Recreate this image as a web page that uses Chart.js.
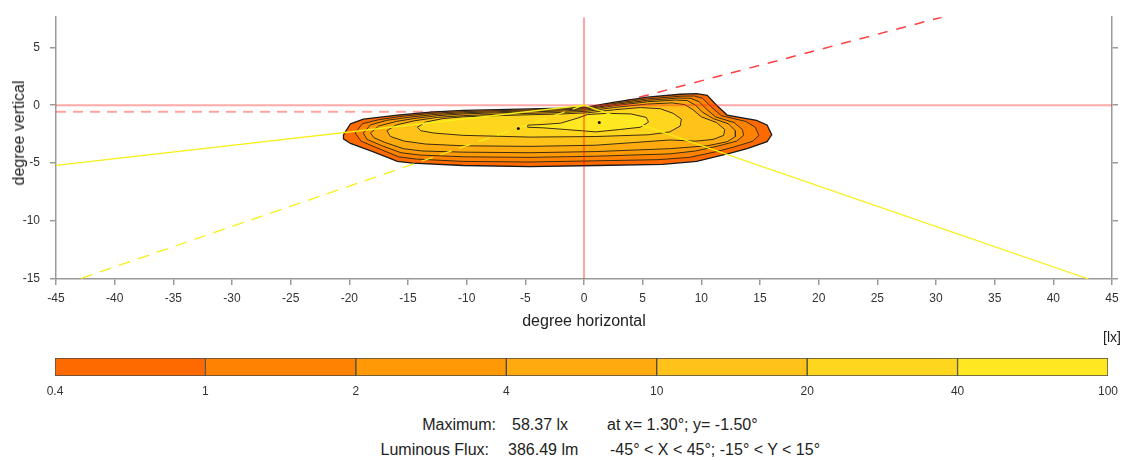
<!DOCTYPE html>
<html>
<head>
<meta charset="utf-8">
<script src="https://cdn.jsdelivr.net/npm/chart.js@4.4.1/dist/chart.umd.min.js"></script>
<style>
  body { margin: 0; background: #fff; width: 1126px; height: 461px; position: relative; overflow: hidden;
         font-family: "Liberation Sans", Arial, sans-serif; color: #222; }
  #isoWrap { position: absolute; left: 0; top: 0; width: 1126px; height: 335px; }
  #barWrap { position: absolute; left: 0; top: 335px; width: 1126px; height: 75px; }
  .note { position: absolute; font-size: 16px; line-height: 18px; white-space: pre; }
  .right { text-align: right; }
  #yTitle { position: absolute; left: 18.5px; top: 133px; font-size: 16px; line-height: 18px; white-space: pre;
            transform: translate(-50%, -50%) rotate(-90deg); }
</style>
</head>
<body>
<div id="isoWrap"><canvas id="isoChart"></canvas></div>
<div id="barWrap"><canvas id="scaleBar"></canvas></div>
<div id="yTitle">degree vertical</div>
<div class="note" style="left:1103px; top:328px; font-size:14px;">[lx]</div>
<div class="note right" style="right:630px; top:416px;">Maximum:</div>
<div class="note" style="left:512px; top:416px;">58.37 lx</div>
<div class="note" style="left:607px; top:416px;">at x= 1.30°; y= -1.50°</div>
<div class="note right" style="right:637px; top:441px;">Luminous Flux:</div>
<div class="note" style="left:508px; top:441px;">386.49 lm</div>
<div class="note" style="left:610px; top:441px;">-45° &lt; X &lt; 45°; -15° &lt; Y &lt; 15°</div>
<script>
// illuminance class limits [lx] and the fill of each band
const luxLevels = ['0.4', '1', '2', '4', '10', '20', '40', '100'];
const bandColors = ['#ff6a00', '#ff8200', '#ff9a06', '#ffab10', '#ffc219', '#ffd61e', '#ffe822'];

// isolux contours, [horizontal°, vertical°]
const iso04 = [[-20.5,-2.55],[-19.9,-1.6],[-18.8,-1.2],[-15.9,-0.85],[-13.1,-0.6],[-10.3,-0.45],[-7.4,-0.38],
  [-4.6,-0.32],[-1.8,-0.25],[0.3,-0.15],[2.5,0.25],[5.4,0.7],[8.2,0.95],[9.6,1.0],[10.5,0.85],[11.3,0.0],
  [12.2,-0.85],[14.7,-1.3],[15.6,-1.7],[16.0,-2.55],[15.6,-3.15],[13.9,-3.75],[12.4,-4.15],[9.6,-4.85],
  [6.7,-5.1],[1.1,-5.2],[-4.6,-5.3],[-10.3,-5.2],[-14.6,-5.0],[-15.9,-4.85],[-18,-4.0],[-19.9,-3.3],[-20.5,-2.9]];
const iso1 = [[-19.5,-2.4],[-18.9,-1.6],[-17.5,-1.25],[-15.5,-0.95],[-13,-0.7],[-10.3,-0.55],[-7.4,-0.47],
  [-4.6,-0.4],[-1.8,-0.33],[0.3,-0.22],[2.5,0.15],[5.4,0.55],[8.2,0.78],[9.4,0.8],[10.1,0.6],[10.8,-0.1],
  [11.7,-0.9],[13.8,-1.4],[14.6,-1.9],[14.9,-2.6],[14.4,-3.1],[12.8,-3.6],[11.3,-4.0],[9,-4.5],[6.3,-4.7],
  [1,-4.8],[-4.6,-4.9],[-10.3,-4.85],[-14.3,-4.65],[-15.8,-4.45],[-17.6,-3.7],[-19,-3.1]];
const iso2 = [[-18.8,-2.4],[-18.2,-1.7],[-16.8,-1.3],[-15,-1.05],[-12.8,-0.8],[-10.3,-0.65],[-7.4,-0.56],
  [-4.6,-0.48],[-1.8,-0.4],[0.3,-0.3],[2.5,0.05],[5.4,0.42],[8,0.62],[9.1,0.6],[9.8,0.3],[10.4,-0.3],
  [11.2,-1.0],[12.8,-1.5],[13.5,-2.1],[13.6,-2.6],[13,-3.1],[11.5,-3.5],[9.5,-3.95],[7.3,-4.2],[1,-4.4],
  [-4.6,-4.5],[-10.3,-4.45],[-14,-4.3],[-15.6,-4.1],[-17.2,-3.5],[-18.5,-2.95]];
const iso4 = [[-18.2,-2.4],[-17.5,-1.8],[-16,-1.4],[-14.5,-1.15],[-12.5,-0.9],[-10.3,-0.75],[-7.4,-0.65],
  [-4.6,-0.57],[-1.8,-0.5],[0.3,-0.4],[2.5,-0.05],[5.4,0.3],[7.8,0.45],[8.8,0.4],[9.5,0.0],[10.1,-0.6],
  [11,-1.15],[12.3,-1.6],[12.9,-2.2],[12.9,-2.7],[12.2,-3.15],[10.5,-3.5],[7.3,-3.75],[1,-4.0],[-4.6,-4.1],
  [-10.3,-4.05],[-13.8,-3.95],[-15.4,-3.75],[-17,-3.2],[-17.9,-2.8]];
const iso10 = [[-16.8,-2.2],[-16,-1.7],[-14.5,-1.35],[-12.5,-1.05],[-10.3,-0.9],[-7.4,-0.78],[-4.6,-0.7],
  [-1.8,-0.62],[0.3,-0.52],[2.5,-0.2],[5.4,0.1],[7.5,0.2],[8.6,0.05],[9.3,-0.4],[10,-1.0],[11.3,-1.5],
  [12,-2.1],[11.9,-2.6],[11,-2.95],[9.5,-3.1],[7.3,-3.0],[1,-3.45],[-4.6,-3.55],[-10.3,-3.5],[-13.5,-3.35],
  [-15.3,-3.1],[-16.5,-2.7]];
const iso20 = [[-14.2,-1.9],[-13.5,-1.45],[-12,-1.15],[-10.3,-1.0],[-7.4,-0.9],[-4.6,-0.82],[-1.8,-0.75],
  [0.3,-0.65],[2.5,-0.4],[4.8,-0.2],[6.5,-0.3],[7.6,-0.7],[8.3,-1.2],[8.2,-1.8],[7.3,-2.3],[5.5,-2.55],
  [1,-2.7],[-4.6,-2.75],[-10.3,-2.6],[-12.8,-2.4],[-13.9,-2.2]];
const iso40 = [[-4.8,-1.72],[-3.5,-1.66],[-2,-1.55],[-0.5,-1.1],[0.3,-0.8],[2,-0.7],[4,-0.75],[5.3,-1.05],
  [5.5,-1.45],[4.8,-1.9],[3,-2.1],[1,-2.3],[-1.5,-2.1],[-3.5,-1.95],[-4.8,-1.9]];

// peak values
const peakPoint = [1.3, -1.5];
const sidePeak = [-5.6, -2.0];

// reference lines
const horizon = [[-45, 0], [45, 0]];
const vertical = [[0, -15], [0, 7.6]];
const cutoffLeft = [[-45, -0.57], [0, -0.57]];
const cutoffRight = [[0, -0.57], [30.5, 7.6]];
const rayLeft = [[0, 0], [-45, -5.2]];
const rayRight = [[0, 0], [43, -15]];
const rayLeftDashed = [[0, 0], [-43, -15]];

const contours = [iso04, iso1, iso2, iso4, iso10, iso20, iso40];

const toPts = pairs => pairs.map(([x, y]) => ({x, y}));
const closed = pairs => toPts(pairs.concat([pairs[0]]));

function lineSet(pairs, color, width, dash, order) {
  return {
    data: toPts(pairs), showLine: true, fill: false, borderColor: color, borderWidth: width,
    borderDash: dash, pointRadius: 0, order: order
  };
}

const datasets = [];
contours.forEach((poly, i) => {
  datasets.push({
    data: closed(poly), showLine: true, fill: 'shape', tension: 0,
    backgroundColor: bandColors[i], borderColor: i === 0 ? '#1a1a1a' : '#3b2f14',
    borderWidth: i === 0 ? 1.3 : 1, pointRadius: 0, order: 20 - i
  });
});
datasets.push(lineSet(cutoffLeft, 'rgba(255,70,70,0.5)', 2, [10, 7], 30));
datasets.push(lineSet(cutoffRight, 'rgba(255,30,30,0.85)', 1.5, [10, 9], 30));
datasets.push(lineSet(horizon, 'rgba(255,40,40,0.4)', 2, [], 2));
datasets.push(lineSet(vertical, 'rgba(255,0,0,0.6)', 1.2, [], 2));
datasets.push(lineSet(rayLeft, '#f6ef1a', 1.3, [], 1));
datasets.push(lineSet(rayRight, '#f6ef1a', 1.3, [], 1));
datasets.push(lineSet(rayLeftDashed, '#f6ef1a', 1.3, [12, 8], 1));
datasets.push({
  data: toPts([peakPoint, sidePeak]), pointRadius: 1.5, pointBackgroundColor: '#111',
  pointBorderWidth: 0, showLine: false, order: 0
});

const axisGrey = '#9a9a9a';
const tickFont = {family: '"Liberation Sans", Arial, sans-serif', size: 12};
const titleFont = {family: '"Liberation Sans", Arial, sans-serif', size: 16};

new Chart(document.getElementById('isoChart'), {
  type: 'scatter',
  data: {datasets: datasets},
  options: {
    responsive: true,
    maintainAspectRatio: false,
    animation: false,
    layout: {padding: {top: 13, left: 0, right: 0, bottom: 0}},
    plugins: {legend: {display: false}, tooltip: {enabled: false}},
    scales: {
      x: {
        type: 'linear', min: -45, max: 45,
        ticks: {stepSize: 5, color: '#333', font: tickFont, padding: 6, maxRotation: 0},
        grid: {drawOnChartArea: false, drawTicks: true, tickLength: 6, color: axisGrey, lineWidth: 1.5},
        border: {display: true, color: axisGrey, width: 1.5},
        title: {display: true, text: 'degree horizontal', color: '#222', font: titleFont, padding: {top: 0, bottom: 4}},
        afterFit: s => { s.height = 56; }
      },
      y: {
        type: 'linear', position: 'left', min: -15, max: 7.6,
        ticks: {stepSize: 5, includeBounds: false, color: '#333', font: tickFont, padding: 10},
        grid: {drawOnChartArea: false, drawTicks: true, tickLength: 6, color: axisGrey, lineWidth: 1.5},
        border: {display: true, color: axisGrey, width: 1.5},
        afterFit: s => { s.width = 56; }
      },
      y2: {
        type: 'linear', position: 'right', min: -15, max: 7.6,
        ticks: {stepSize: 5, includeBounds: false, display: false},
        grid: {drawOnChartArea: false, drawTicks: true, tickLength: 6, color: axisGrey, lineWidth: 1.5},
        border: {display: true, color: axisGrey, width: 1.5},
        afterFit: s => { s.width = 14; }
      }
    }
  }
});

// colour scale of the lux classes
new Chart(document.getElementById('scaleBar'), {
  type: 'bar',
  data: {
    labels: ['lx'],
    datasets: bandColors.map(c => ({
      data: [1], backgroundColor: c, borderColor: '#4a4a4a', borderWidth: 1, borderSkipped: false,
      barPercentage: 1, categoryPercentage: 1
    }))
  },
  options: {
    indexAxis: 'y',
    responsive: true,
    maintainAspectRatio: false,
    animation: false,
    layout: {padding: {top: 23, left: 55, right: 13, bottom: 0}},
    plugins: {legend: {display: false}, tooltip: {enabled: false}},
    scales: {
      x: {
        stacked: true, min: 0, max: bandColors.length,
        ticks: {stepSize: 1, color: '#333', font: tickFont, padding: 8, maxRotation: 0,
                callback: v => luxLevels[v]},
        grid: {display: false, drawTicks: false},
        border: {display: false},
        afterFit: s => { s.height = 34; }
      },
      y: {stacked: true, display: false}
    }
  }
});
</script>
</body>
</html>
